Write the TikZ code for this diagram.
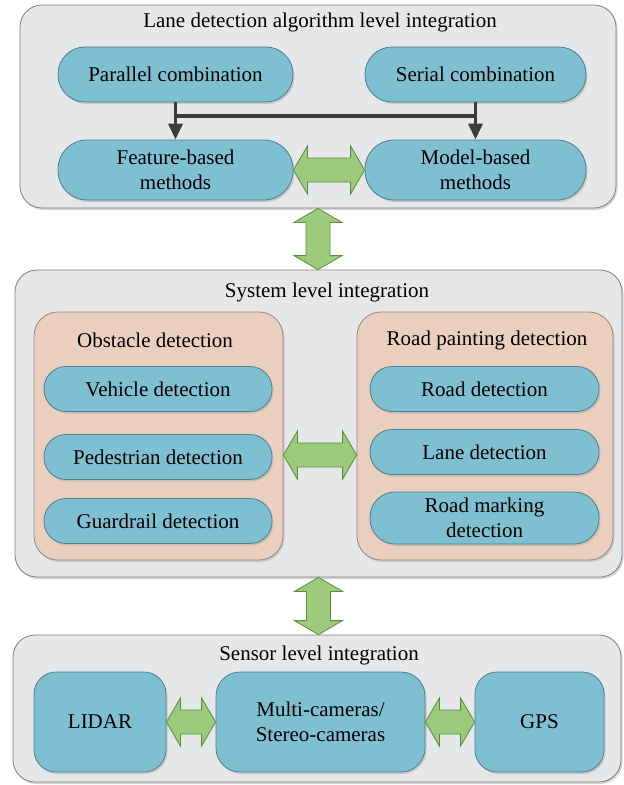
\documentclass[tikz,border=0pt]{standalone}
\usepackage{fontspec}
\setmainfont{Liberation Serif}
\usetikzlibrary{calc,shadows,arrows.meta}
\definecolor{panelfill}{HTML}{E6E7E9}
\definecolor{paneldraw}{HTML}{7F7F7F}
\definecolor{bluefill}{HTML}{7EBFD1}
\definecolor{bluedraw}{HTML}{4F7F90}
\definecolor{peachfill}{HTML}{EBCFBE}
\definecolor{peachdraw}{HTML}{8C8A88}
\definecolor{greenfill}{HTML}{9CCC7B}
\definecolor{greendraw}{HTML}{5C8C42}
\definecolor{busgray}{HTML}{3C3C3C}
\tikzset{
  shad/.style={drop shadow={shadow xshift=1.5pt,shadow yshift=-2pt,fill=black!35,opacity=0.45}},
  panel/.style={draw=paneldraw,fill=panelfill,line width=0.8pt,rounded corners=22pt,shad,inner sep=0pt},
  group/.style={draw=peachdraw,fill=peachfill,line width=0.8pt,rounded corners=24pt,shad,inner sep=0pt},
  pill/.style={draw=bluedraw,fill=bluefill,line width=0.8pt,shad,align=center,inner sep=0pt},
  lbl/.style={inner sep=0pt,align=center},
  garrow/.style={draw=greendraw,fill=greenfill,line width=0.8pt,line join=miter},
  bus/.style={draw=busgray,line width=3.5pt},
  busarrow/.style={bus,-{Triangle[width=14pt,length=16pt]}},
}
\newcommand\hbiarrow[2]{%
  \path[garrow] let \p1=(#1), \p2=(#2) in
    (\x1,\y1) -- (\x1+14pt,\y1+24pt) -- (\x1+14pt,\y1+12pt) -- (\x2-14pt,\y1+12pt)
    -- (\x2-14pt,\y1+24pt) -- (\x2,\y1) -- (\x2-14pt,\y1-24pt) -- (\x2-14pt,\y1-12pt)
    -- (\x1+14pt,\y1-12pt) -- (\x1+14pt,\y1-24pt) -- cycle;}
\newcommand\vbiarrow[2]{%
  \path[garrow] let \p1=(#1), \p2=(#2) in
    (\x1,\y1) -- (\x1+24pt,\y1-14pt) -- (\x1+12pt,\y1-14pt) -- (\x1+12pt,\y2+14pt)
    -- (\x1+24pt,\y2+14pt) -- (\x1,\y2) -- (\x1-24pt,\y2+14pt) -- (\x1-12pt,\y2+14pt)
    -- (\x1-12pt,\y1-14pt) -- (\x1-24pt,\y1-14pt) -- cycle;}
\begin{document}
\begin{tikzpicture}[x=1pt,y=-1pt,font=\fontsize{21}{25}\selectfont]
\useasboundingbox[fill=white] (0,0) rectangle (624,785);
% panels
\node[panel,minimum width=596pt,minimum height=203pt] (top) at (318,106.5) {};
\node[panel,minimum width=607pt,minimum height=307pt] (sys) at (318.5,423.5) {};
\node[panel,minimum width=608pt,minimum height=147pt] (sen) at (317,708.5) {};
% titles
\node[lbl] (ttop) at (320,22) {Lane detection algorithm level integration};
\node[lbl] (tsys) at (327,292) {System level integration};
\node[lbl] (tsen) at (319,655) {Sensor level integration};
% top boxes
\node[pill,rounded corners=27pt,minimum width=235pt,minimum height=55pt] (par) at (175.5,74.5) {Parallel combination};
\node[pill,rounded corners=27pt,minimum width=221pt,minimum height=55pt] (ser) at (475.5,74.5) {Serial combination};
\node[pill,rounded corners=29pt,minimum width=235pt,minimum height=60pt] (feat) at (175.5,170) {Feature-based\\methods};
\node[pill,rounded corners=29pt,minimum width=221pt,minimum height=60pt] (mod) at (475.5,170) {Model-based\\methods};
% bus connectors
\coordinate (b1) at ($(par.south)!0.37!(feat.north)$);
\draw[busarrow] (par.south) -- (feat.north);
\draw[busarrow] (ser.south) -- (mod.north);
\draw[bus] ([xshift=-1.75pt]b1) -- (b1 -| ser.south) -- ([xshift=1.75pt]b1 -| ser.south);
\hbiarrow{feat.east}{mod.west}
\vbiarrow{top.south}{sys.north}
% system groups
\node[group,minimum width=249pt,minimum height=248pt] (obs) at (158.5,436) {};
\node[group,minimum width=256pt,minimum height=248pt] (rpd) at (485,436) {};
\node[lbl] (tobs) at (155,340) {Obstacle detection};
\node[lbl] (trpd) at (487,340) {Road painting detection};
\node[pill,rounded corners=22pt,minimum width=228pt,minimum height=45pt] (veh) at (158,389) {Vehicle detection};
\node[pill,rounded corners=22pt,minimum width=228pt,minimum height=45pt] (ped) at (158,457) {Pedestrian detection};
\node[pill,rounded corners=22pt,minimum width=228pt,minimum height=45pt] (grd) at (158,521) {Guardrail detection};
\node[pill,rounded corners=22pt,minimum width=229pt,minimum height=45pt] (road) at (484.5,389) {Road detection};
\node[pill,rounded corners=22pt,minimum width=229pt,minimum height=45pt] (lane) at (484.5,452) {Lane detection};
\node[pill,rounded corners=25pt,minimum width=229pt,minimum height=52pt] (mark) at (484.5,518) {Road marking\\detection};
\coordinate (oa) at (obs.east |- 0,455);
\coordinate (ra) at (rpd.west |- 0,455);
\hbiarrow{oa}{ra}
\vbiarrow{sys.south}{sen.north}
% sensor boxes
\node[pill,rounded corners=22pt,minimum width=132pt,minimum height=100pt] (lidar) at (100,722) {LIDAR};
\node[pill,rounded corners=24pt,minimum width=209pt,minimum height=100pt] (multi) at (320.5,722) {Multi-cameras/\\Stereo-cameras};
\node[pill,rounded corners=22pt,minimum width=129pt,minimum height=100pt] (gps) at (539.5,722) {GPS};
\hbiarrow{lidar.east}{multi.west}
\hbiarrow{multi.east}{gps.west}
\end{tikzpicture}
\end{document}
